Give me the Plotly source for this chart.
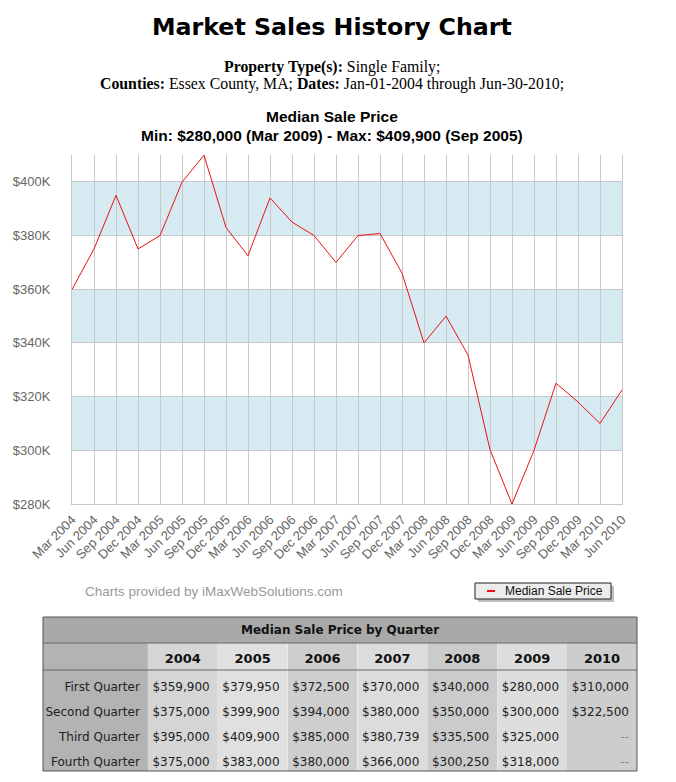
import plotly.graph_objects as go

W, H = 676, 782

# ---------------- data ----------------
years = ["2004", "2005", "2006", "2007", "2008", "2009", "2010"]
quarters = ["First Quarter", "Second Quarter", "Third Quarter", "Fourth Quarter"]
quarter_months = ["Mar", "Jun", "Sep", "Dec"]
q1 = [359900, 379950, 372500, 370000, 340000, 280000, 310000]
q2 = [375000, 399900, 394000, 380000, 350000, 300000, 322500]
q3 = [395000, 409900, 385000, 380739, 335500, 325000, None]
q4 = [375000, 383000, 380000, 366000, 300250, 318000, None]
y_tick_vals = [280000, 300000, 320000, 340000, 360000, 380000, 400000]
y_tick_text = ["$280K", "$300K", "$320K", "$340K", "$360K", "$380K", "$400K"]
band_ranges = [(300000, 320000), (340000, 360000), (380000, 400000)]
y_range = [280000, 410000]
series_name = "Median Sale Price"

# chronological series built from the quarterly table
periods, prices = [], []
for i, yr in enumerate(years):
    for m, col in zip(quarter_months, (q1, q2, q3, q4)):
        if col[i] is not None:
            periods.append(f"{m} {yr}")
            prices.append(col[i])

imin = prices.index(min(prices))
imax = prices.index(max(prices))
minmax_text = (f"<b>Min: ${prices[imin]:,} ({periods[imin]}) - "
               f"Max: ${prices[imax]:,} ({periods[imax]})</b>")


def px(x):
    return x / W


def py(y):
    return 1 - y / H


GRID = "#c8c8c8"
BAND = "#d6eaf1"
LABEL = "#666666"
RED = "#ee1111"

fig = go.Figure()
fig.add_trace(go.Scatter(
    x=periods, y=prices, mode="lines", name=series_name,
    line=dict(color=RED, width=1), hoverinfo="skip", showlegend=False,
))

shapes = []
for lo, hi in band_ranges:
    shapes.append(dict(type="rect", xref="paper", yref="y", x0=px(72), x1=px(622),
                       y0=lo, y1=hi, fillcolor=BAND, line=dict(width=0), layer="below"))

# legend box (shadow, box, key)
L_L, L_R, L_T, L_B = 475, 611, 583, 599
shapes.append(dict(type="rect", xref="paper", yref="paper", x0=px(L_L + 3), x1=px(L_R + 3),
                   y0=py(L_B + 3), y1=py(L_T + 3), fillcolor="#bdbdbd", line=dict(width=0),
                   layer="above"))
shapes.append(dict(type="rect", xref="paper", yref="paper", x0=px(L_L), x1=px(L_R),
                   y0=py(L_B), y1=py(L_T), fillcolor="#ececec",
                   line=dict(color="#222222", width=1), layer="above"))
shapes.append(dict(type="line", xref="paper", yref="paper", x0=px(487), x1=px(495),
                   y0=py(591), y1=py(591), line=dict(color=RED, width=2), layer="above"))

# ---------------- table ----------------
T_L, T_R, T_TOP, T_HDR, T_BODY, T_BOT = 43, 637, 617, 643, 670, 771
col_colors = ["#b3b3b3", "#d5d5d5", "#e0e0e0", "#cecece", "#dcdcdc", "#cbcbcb", "#dddddd", "#cdcdcd"]


def fmt(v):
    return "--" if v is None else f"${v:,}"


cell_cols = [[q.replace(" ", "\u00a0") for q in quarters]]
for i in range(len(years)):
    cell_cols.append([fmt(c[i]) for c in (q1, q2, q3, q4)])

cell_font_colors = [["#222222"] * 4]
for i in range(len(years)):
    cell_font_colors.append(["#888888" if c[i] is None else "#222222" for c in (q1, q2, q3, q4)])

fig.add_trace(go.Table(
    domain=dict(x=[px(T_L), px(T_R)], y=[py(T_BOT), py(T_HDR)]),
    columnwidth=[105, 70, 70, 70, 70, 70, 70, 70],
    header=dict(
        values=[""] + [f"<b>{y}</b>" for y in years],
        fill=dict(color=col_colors),
        line=dict(color=col_colors, width=0),
        align="center",
        font=dict(family="DejaVu Sans", size=13, color="#111111"),
        height=27,
    ),
    cells=dict(
        values=cell_cols,
        fill=dict(color=[[c] * 4 for c in col_colors]),
        line=dict(color=[[c] * 4 for c in col_colors], width=0),
        align="right",
        font=dict(family="DejaVu Sans", size=12, color=cell_font_colors),
        height=25,
    ),
))

shapes.append(dict(type="rect", xref="paper", yref="paper", x0=px(T_L), x1=px(T_R),
                   y0=py(T_HDR), y1=py(T_TOP), fillcolor="#a9a9a9", line=dict(width=0),
                   layer="above"))
for yy in (T_HDR, T_BODY):
    shapes.append(dict(type="line", xref="paper", yref="paper", x0=px(T_L), x1=px(T_R),
                       y0=py(yy), y1=py(yy), line=dict(color="#666666", width=1),
                       layer="above"))
shapes.append(dict(type="rect", xref="paper", yref="paper", x0=px(T_L), x1=px(T_R),
                   y0=py(T_BOT), y1=py(T_TOP), line=dict(color="#555555", width=1),
                   layer="above"))

annotations = [
    dict(text="<b>Market Sales History Chart</b>", x=px(332), y=py(27),
         font=dict(family="DejaVu Sans", size=23.7, color="#000000")),
    dict(text="<b>Property Type(s):</b> Single Family;", x=px(332), y=py(67),
         font=dict(family="Liberation Serif", size=15.8, color="#000000")),
    dict(text="<b>Counties:</b> Essex County, MA; <b>Dates:</b> Jan-01-2004 through Jun-30-2010;",
         x=px(332), y=py(84), font=dict(family="Liberation Serif", size=15.8, color="#000000")),
    dict(text="<b>Median Sale Price</b>", x=px(332), y=py(116),
         font=dict(family="Liberation Sans", size=15.5, color="#000000")),
    dict(text=minmax_text, x=px(332), y=py(135),
         font=dict(family="Liberation Sans", size=15.5, color="#000000")),
    dict(text="Charts provided by iMaxWebSolutions.com", x=px(83), y=py(591), xanchor="left",
         font=dict(family="Liberation Sans", size=13.5, color="#999999")),
    dict(text=series_name, x=px(503), y=py(591), xanchor="left",
         font=dict(family="Liberation Sans", size=12, color="#111111")),
    dict(text="<b>Median Sale Price by Quarter</b>", x=px((T_L + T_R) / 2), y=py(630),
         font=dict(family="DejaVu Sans", size=12, color="#111111")),
]
for a in annotations:
    a.update(xref="paper", yref="paper", showarrow=False)
    a.setdefault("xanchor", "center")
    a.setdefault("yanchor", "middle")

fig.update_layout(
    width=W, height=H, autosize=False,
    margin=dict(l=0, r=0, t=0, b=0, autoexpand=False),
    paper_bgcolor="white", plot_bgcolor="white",
    showlegend=False,
    xaxis=dict(domain=[px(72), px(622)], type="category", range=[0, len(periods) - 1],
               automargin=False,
               showgrid=True, gridcolor=GRID, gridwidth=1,
               showline=True, linecolor=GRID, linewidth=1,
               tickangle=-45, ticks="", ticklabelstandoff=2,
               tickfont=dict(family="Liberation Sans", size=13, color=LABEL),
               fixedrange=True),
    yaxis=dict(domain=[py(504), py(155)], range=y_range, automargin=False,
               tickvals=y_tick_vals, ticktext=y_tick_text,
               showgrid=True, gridcolor=GRID, gridwidth=1, zeroline=False,
               showline=True, mirror=True, linecolor=GRID, linewidth=1,
               ticks="", ticklabelstandoff=18,
               tickfont=dict(family="Liberation Sans", size=13, color=LABEL),
               fixedrange=True),
    shapes=shapes,
    annotations=annotations,
)

fig.write_html("out.html", config={"displayModeBar": False},
               post_script="document.body.style.margin='0px';document.body.style.padding='0px';")
